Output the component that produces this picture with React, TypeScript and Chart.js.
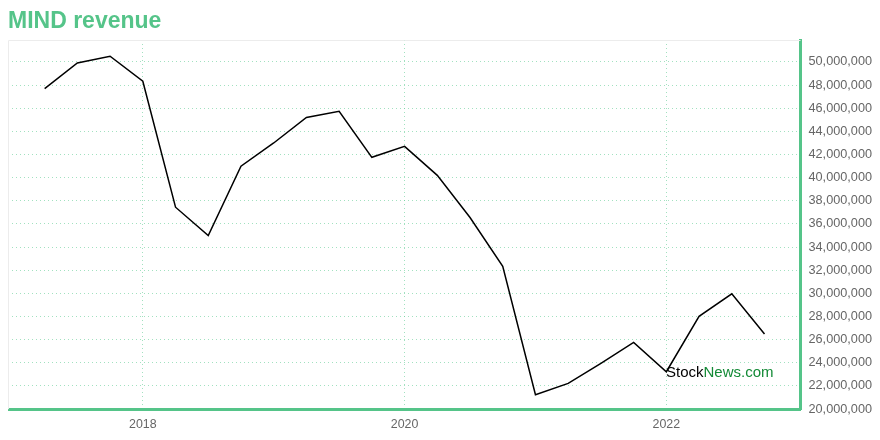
import React, { useEffect, useRef } from "react";
import { Chart, registerables } from "chart.js";

Chart.register(...registerables);

const quarterEnds = [
  "2017-03", "2017-06", "2017-09", "2017-12",
  "2018-03", "2018-06", "2018-09", "2018-12",
  "2019-03", "2019-06", "2019-09", "2019-12",
  "2020-03", "2020-06", "2020-09", "2020-12",
  "2021-03", "2021-06", "2021-09", "2021-12",
  "2022-03", "2022-06", "2022-09",
];

const revenue = [
  47700000, 49920000, 50500000, 48340000,
  37450000, 35000000, 41000000, 43000000,
  45200000, 45740000, 41760000, 42710000,
  40200000, 36560000, 32350000, 21240000,
  22220000, 23950000, 25770000, 23230000,
  28020000, 29960000, 26490000,
];

const xTickYears = [2018, 2020, 2022];
const yMin = 20000000;
const yMax = 51900000;
const yStep = 2000000;
const xMin = 2016.97;
const xMax = 2023.025;

const GREEN = "#55c489";
const GRID = "rgba(100,205,150,0.6)";

const toYear = (s: string) => {
  const [y, m] = s.split("-").map(Number);
  return y + m / 12;
};

const framePlugin = {
  id: "frame",
  beforeDatasetsDraw(chart: any) {
    const { ctx, chartArea } = chart;
    ctx.save();
    ctx.strokeStyle = "#ececec";
    ctx.lineWidth = 1;
    ctx.beginPath();
    ctx.moveTo(chartArea.left + 0.5, chartArea.bottom);
    ctx.lineTo(chartArea.left + 0.5, chartArea.top + 0.5);
    ctx.lineTo(chartArea.right, chartArea.top + 0.5);
    ctx.stroke();
    ctx.restore();
  },
};

const watermarkPlugin = {
  id: "watermark",
  afterDraw(chart: any) {
    const { ctx, chartArea } = chart;
    ctx.save();
    ctx.font = "15px 'Liberation Sans', Arial, sans-serif";
    ctx.textBaseline = "middle";
    const x = chartArea.left + 658;
    const y = chartArea.bottom - 36;
    ctx.fillStyle = "#000000";
    ctx.fillText("Stock", x, y);
    const w = ctx.measureText("Stock").width;
    ctx.fillStyle = "#138a36";
    ctx.fillText("News.com", x + w, y);
    ctx.restore();
  },
};

export default function App() {
  const ref = useRef<HTMLCanvasElement | null>(null);

  useEffect(() => {
    if (!ref.current) return;
    const chart = new Chart(ref.current, {
      type: "line",
      data: {
        datasets: [
          {
            label: "MIND revenue",
            data: quarterEnds.map((q, i) => ({ x: toYear(q), y: revenue[i] })),
            borderColor: "#000000",
            borderWidth: 1.5,
            pointRadius: 0,
            tension: 0,
            fill: false,
          },
        ],
      },
      options: {
        animation: false,
        responsive: true,
        maintainAspectRatio: false,
        layout: { padding: 0 },
        plugins: {
          legend: { display: false },
          tooltip: { enabled: false },
          title: {
            display: true,
            text: "MIND revenue",
            align: "start",
            color: GREEN,
            font: { family: "'Liberation Sans', Arial, sans-serif", size: 23, weight: "bold" },
            padding: { top: 0, bottom: 4.4 },
          },
        },
        scales: {
          x: {
            type: "linear",
            min: xMin,
            max: xMax,
            afterBuildTicks: (scale: any) => {
              scale.ticks = xTickYears.map((v) => ({ value: v }));
            },
            grid: { color: GRID, lineWidth: 1, drawTicks: false },
            border: { color: GREEN, width: 3, dash: [1, 3] },
            ticks: {
              color: "#666666",
              font: { family: "'Liberation Sans', Arial, sans-serif", size: 12.4 },
              padding: 8,
              maxRotation: 0,
              callback: (v: any) => String(v),
            },
          },
          y: {
            type: "linear",
            position: "right",
            min: yMin,
            max: yMax,
            afterBuildTicks: (scale: any) => {
              const t: any[] = [];
              for (let v = yMin; v <= yMax; v += yStep) t.push({ value: v });
              scale.ticks = t;
            },
            grid: { color: GRID, lineWidth: 1, drawTicks: false },
            border: { color: GREEN, width: 3, dash: [1, 3] },
            ticks: {
              color: "#666666",
              font: { family: "'Liberation Sans', Arial, sans-serif", size: 12.7 },
              padding: 8,
              autoSkip: false,
              callback: (v: any) => Number(v).toLocaleString("en-US"),
            },
          },
        },
      },
      plugins: [framePlugin, watermarkPlugin],
    });
    return () => chart.destroy();
  }, []);

  return (
    <div style={{ position: "absolute", left: 8, top: 8, width: 872, height: 432 }}>
      <canvas ref={ref} />
    </div>
  );
}
